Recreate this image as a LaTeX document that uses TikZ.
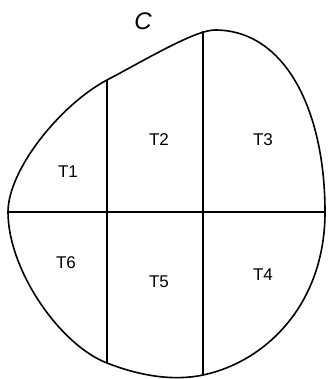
\documentclass[tikz,border=0pt]{standalone}
\usepackage{fontspec}
\setmainfont{Liberation Sans}
\usetikzlibrary{positioning,calc}

\begin{document}
\begin{tikzpicture}[x=1pt,y=-1pt,line width=1.6pt,tile/.style={font=\fontsize{17}{19}\selectfont}]
\useasboundingbox (0,0) rectangle (327,379);
\coordinate (w) at (8,212);
\coordinate (e) at (325,212);
\coordinate (n1) at (107,80);
\coordinate (s1) at (107,363);
\coordinate (n2) at (203,31);
\coordinate (s2) at (203,375);
% boundary C
\draw (w) .. controls (8,170) and (60,105) .. (n1) .. controls (145,60) and (195,30) .. (215,30)
  .. controls (285,30) and (325,110) .. (e) .. controls (325,305) and (265,362) .. (s2)
  .. controls (170,382) and (135,374) .. (s1) .. controls (60,345) and (8,270) .. cycle;
\draw (w)--(e);
\foreach \p/\q in {n1/s1,n2/s2}{\draw(\p)--(\q);}
\node[font=\itshape\fontsize{24}{26}\selectfont](c) at (143,21){C};
\node[tile](t1) at (68,172){T1};
\node[tile](t2) at (159,140){T2};
\node[tile](t3) at (263,140){T3};
\node[tile](t4) at (263,275){T4};
\node[tile](t5) at (159,282){T5};
\node[tile](t6) at (66,263){T6};
\end{tikzpicture}
\end{document}
